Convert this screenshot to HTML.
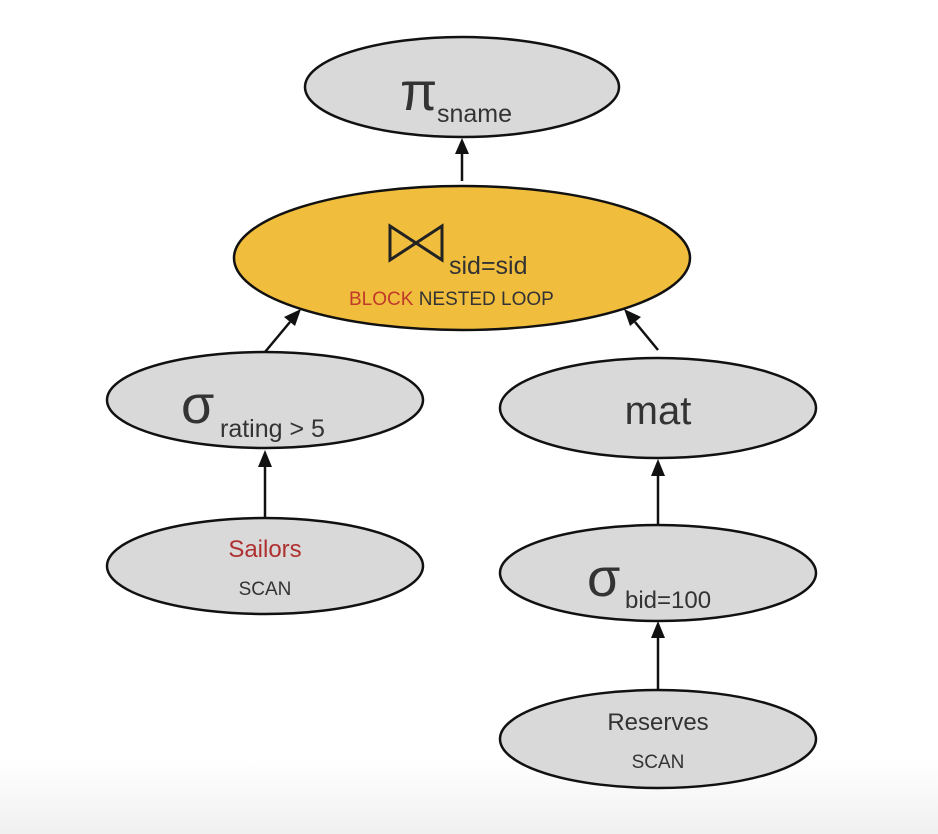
<!DOCTYPE html>
<html><head><style>
html,body{margin:0;padding:0;background:#fff}
svg{display:block}
text{font-family:"Liberation Sans","DejaVu Sans",sans-serif}
</style></head><body>
<svg width="938" height="834" viewBox="0 0 938 834" xmlns="http://www.w3.org/2000/svg">
<defs>
<linearGradient id="bg" x1="0" y1="0" x2="0" y2="1">
<stop offset="0" stop-color="#ffffff"/><stop offset="1" stop-color="#f0f0f0"/>
</linearGradient>
</defs>
<rect x="0" y="0" width="938" height="834" fill="#fff"/>
<rect x="0" y="760" width="938" height="74" fill="url(#bg)"/>

<g stroke="#111" stroke-width="2.5" fill="#d9d9d9">
<ellipse cx="462" cy="87" rx="157" ry="50"/>
<ellipse cx="462" cy="258" rx="228" ry="72" fill="#f0bd3c"/>
<ellipse cx="265" cy="400" rx="158" ry="48"/>
<ellipse cx="658" cy="408" rx="158" ry="50"/>
<ellipse cx="265" cy="566" rx="158" ry="48"/>
<ellipse cx="658" cy="573" rx="158" ry="48"/>
<ellipse cx="658" cy="739" rx="158" ry="49"/>
</g>

<g stroke="#111" stroke-width="2.5">
<line x1="462" y1="181" x2="462" y2="152"/>
<line x1="265" y1="352" x2="290" y2="322"/>
<line x1="658" y1="350" x2="635" y2="322"/>
<line x1="265" y1="518" x2="265" y2="465"/>
<line x1="658" y1="525" x2="658" y2="474"/>
<line x1="658" y1="690" x2="658" y2="636"/>
</g>
<g fill="#111">
<polygon points="462,138 455,154 469,154"/>
<polygon points="301,309 284,317 295,326"/>
<polygon points="624,309 630,326 641,317"/>
<polygon points="265,450 258,467 272,467"/>
<polygon points="658,459 651,476 665,476"/>
<polygon points="658,621 651,638 665,638"/>
</g>

<path d="M390,226 L390,260 L442,226 L442,260 Z" fill="none" stroke="#222" stroke-width="3" stroke-linejoin="miter"/>

<g fill="#333">
<text x="400" y="110" font-size="54" font-family="Liberation Serif,serif">π</text>
<text x="437" y="122" font-size="25">sname</text>

<text x="449" y="274" font-size="25">sid=sid</text>
<text x="349" y="305" font-size="19"><tspan fill="#c0392b">BLOCK</tspan> NESTED LOOP</text>

<text x="181" y="423" font-size="54" font-family="Liberation Serif,serif">σ</text>
<text x="220" y="437" font-size="25">rating &gt; 5</text>

<text x="658" y="424" font-size="40" text-anchor="middle">mat</text>

<text x="265" y="557" font-size="24" fill="#b03030" text-anchor="middle">Sailors</text>
<text x="265" y="595" font-size="19" text-anchor="middle">SCAN</text>

<text x="587" y="596" font-size="54" font-family="Liberation Serif,serif">σ</text>
<text x="625" y="608" font-size="24">bid=100</text>

<text x="658" y="730" font-size="24" text-anchor="middle">Reserves</text>
<text x="658" y="768" font-size="19" text-anchor="middle">SCAN</text>
</g>
</svg>
</body></html>
